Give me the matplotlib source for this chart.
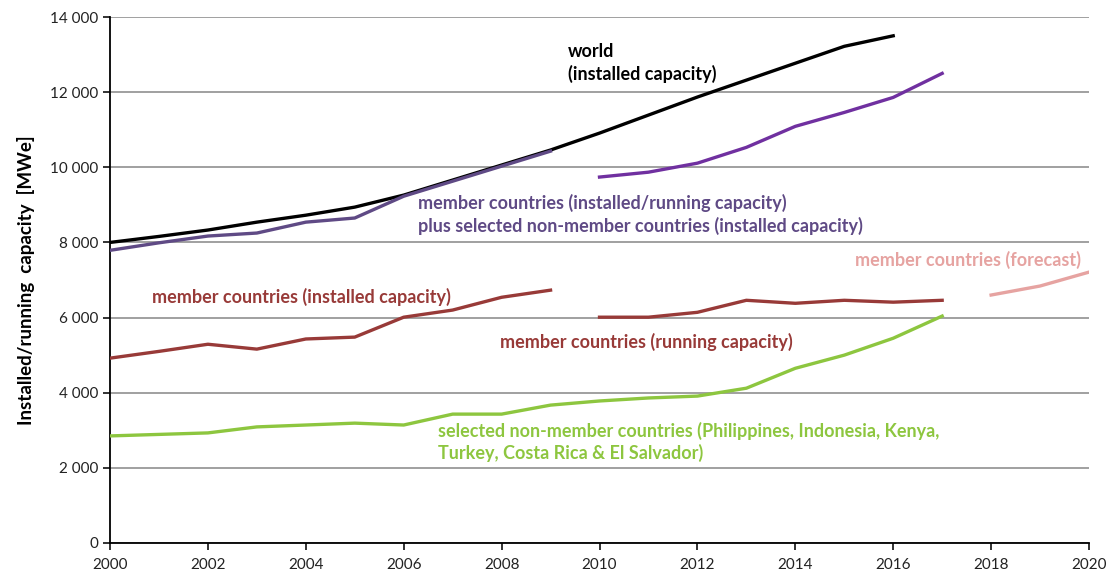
import matplotlib.pyplot as plt
from matplotlib.ticker import FuncFormatter

plt.rcParams['font.family'] = ['Lato', 'DejaVu Sans']

# Geothermal capacity series (MWe)
years_hist = [2000, 2001, 2002, 2003, 2004, 2005, 2006, 2007, 2008, 2009]
years_recent = [2010, 2011, 2012, 2013, 2014, 2015, 2016, 2017]
years_world = list(range(2000, 2017))
years_forecast = [2018, 2019, 2020]
years_green = list(range(2000, 2018))

world = [8000, 8160, 8330, 8540, 8725, 8940, 9260, 9660, 10060, 10460,
         10910, 11390, 11870, 12320, 12770, 13220, 13500]
member_plus_hist = [7790, 7990, 8170, 8250, 8540, 8650, 9230, 9630, 10030, 10430]
member_plus_recent = [9740, 9870, 10110, 10530, 11090, 11460, 11860, 12500]
member_installed = [4920, 5100, 5290, 5160, 5430, 5480, 6010, 6200, 6540, 6730]
member_running = [6010, 6010, 6140, 6460, 6380, 6460, 6410, 6460]
member_forecast = [6600, 6840, 7210]
non_member = [2850, 2890, 2930, 3090, 3140, 3190, 3140, 3430, 3430, 3670,
              3780, 3860, 3910, 4120, 4650, 5000, 5450, 6040]

fig = plt.figure(figsize=(11.19, 5.79), dpi=100)
ax = fig.add_axes([0.0983, 0.0622, 0.8749, 0.9084])

lw = 2.4
ax.plot(years_world, world, color='black', lw=lw, zorder=3)
ax.plot(years_hist, member_plus_hist, color='#5f4a85', lw=lw, zorder=4)
ax.plot(years_recent, member_plus_recent, color='#7030a0', lw=lw, zorder=4)
ax.plot(years_hist, member_installed, color='#983a38', lw=lw, zorder=3)
ax.plot(years_recent, member_running, color='#983a38', lw=lw, zorder=3)
ax.plot(years_forecast, member_forecast, color='#e6a3a1', lw=lw, zorder=3)
ax.plot(years_green, non_member, color='#8dc63f', lw=lw, zorder=3)

ax.set_xlim(2000, 2020)
ax.set_ylim(0, 14000)
ax.set_xticks(range(2000, 2021, 2))
ax.set_yticks(range(0, 14001, 2000))
ax.yaxis.set_major_formatter(FuncFormatter(lambda v, p: f'{int(v):,}'.replace(',', ' ')))
ax.grid(axis='y', color='#999999', lw=1.3)
ax.set_axisbelow(True)
for s in ['top', 'right']:
    ax.spines[s].set_visible(False)
for s in ['left', 'bottom']:
    ax.spines[s].set_linewidth(1.3)
ax.tick_params(axis='both', length=5, width=1.3, labelsize=11, colors='#222222')
ax.tick_params(axis='x', pad=6)
ax.set_ylabel('Installed/running  capacity  [MWe]', fontsize=13.5, fontweight='bold', labelpad=11)

txt = dict(fontsize=13, fontweight='bold', va='center', ha='left', linespacing=1.3)
ax.text(2009.36, 12780, 'world\n(installed capacity)', color='black', **txt)
ax.text(2006.29, 8750, 'member countries (installed/running capacity)\n'
        'plus selected non-member countries (installed capacity)', color='#5f4a85', **txt)
ax.text(2000.86, 6540, 'member countries (installed capacity)', color='#983a38', **txt)
ax.text(2007.97, 5350, 'member countries (running capacity)', color='#983a38', **txt)
ax.text(2015.22, 7530, 'member countries (forecast)', color='#e6a3a1', **txt)
ax.text(2006.70, 2690, 'selected non-member countries (Philippines, Indonesia, Kenya,\n'
        'Turkey, Costa Rica & El Salvador)', color='#8dc63f', **txt)

fig.savefig('out.png', dpi=100)
